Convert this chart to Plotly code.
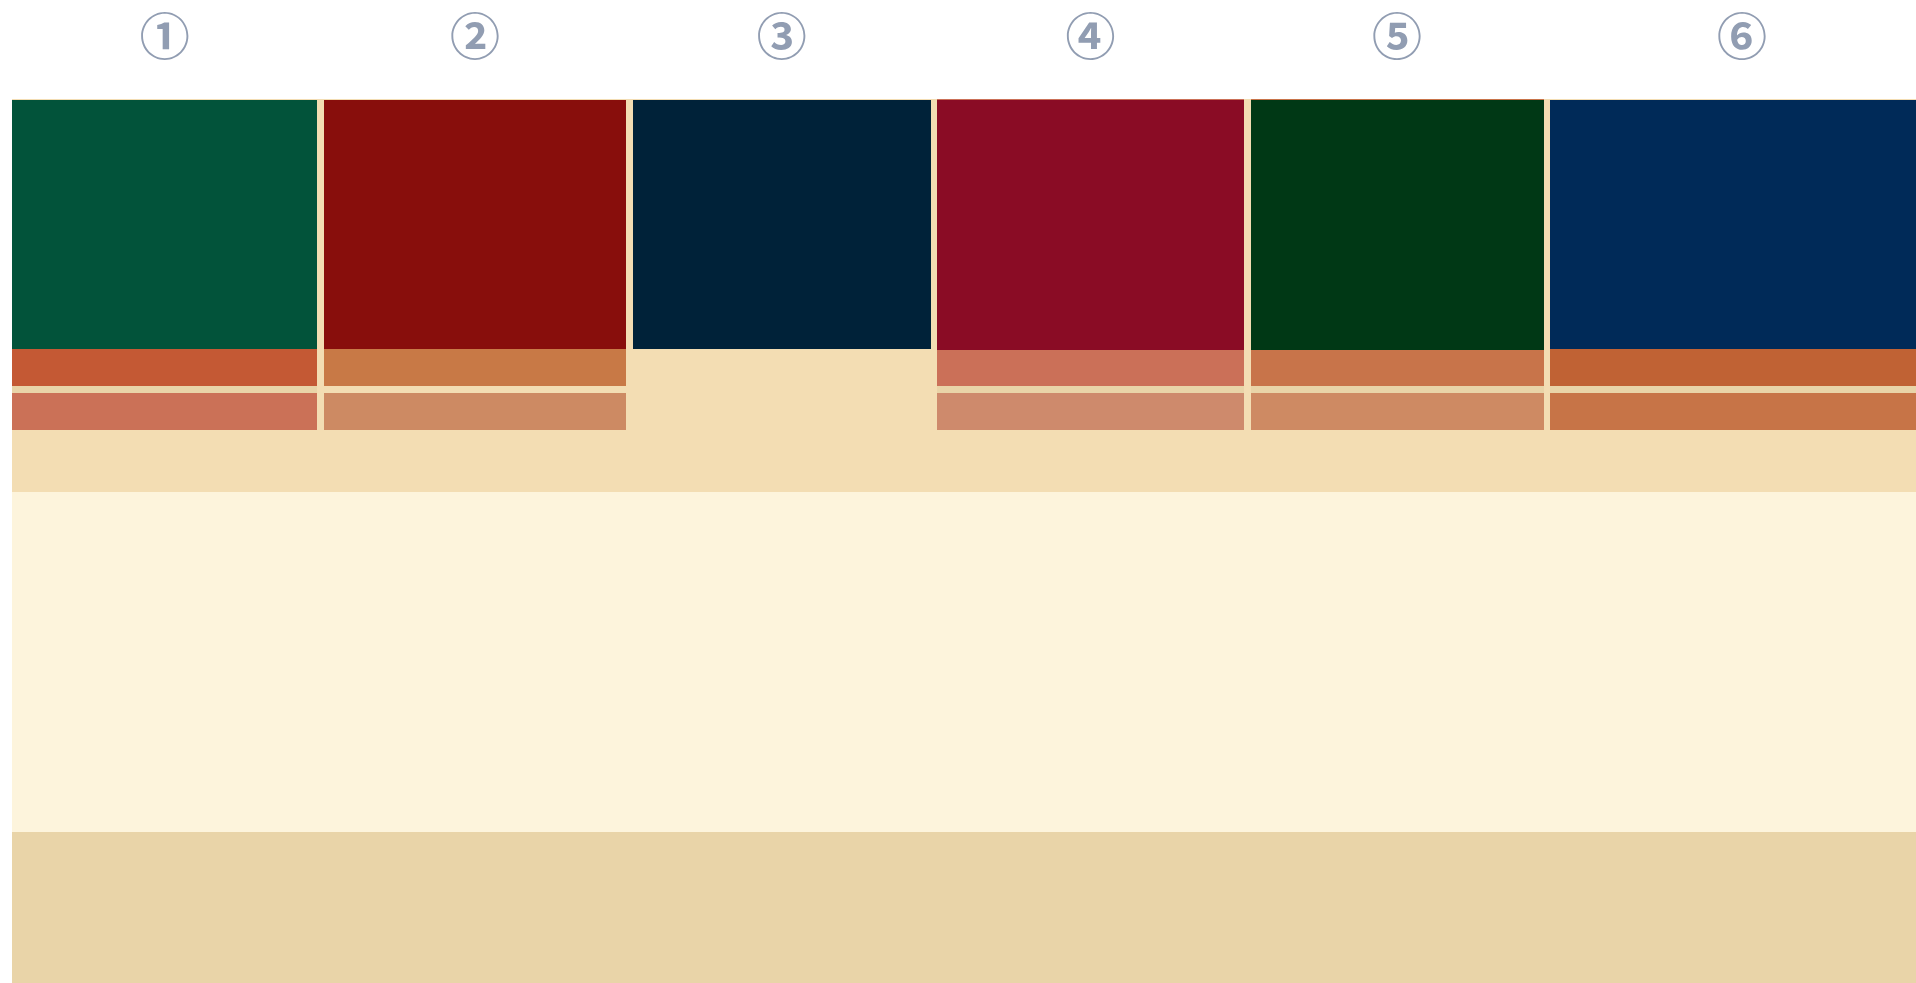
import plotly.graph_objects as go

# colonnes (largeurs, en px du tracé)
col_labels = ["①", "②", "③", "④", "⑤", "⑥"]
col_widths = [305.3, 302.3, 297.8, 306.7, 293.0, 383.6]
col_gap = 6.6

# segments empilés depuis le haut (hauteurs)
cap_h = [1, 1, 1, 1, 1, 1]
dark_h = [249, 249, 249, 250, 250, 249]
orange_h = [37, 37, 0, 36, 36, 37]
gap_h = [7, 7, 0, 7, 7, 7]
salmon_h = [37, 37, 0, 37, 37, 37]

cap_colors = ["#F3DDB3", "#F3DDB3", "#F3DDB3", "#CB7058", "#C8744A", "#F3DDB3"]
dark_colors = ["#02533A", "#880E0C", "#002239", "#8A0C25", "#003815", "#002A58"]
orange_colors = ["#C45934", "#C87946", "#F3DDB3", "#CB7058", "#C8744A", "#C06234"]
gap_colors = ["#E9D4A8", "#F3DDB3", "#F3DDB3", "#E9D4A8", "#E9D4A8", "#E9D4A8"]
salmon_colors = ["#CB7157", "#CD8A63", "#F3DDB3", "#CE8A6C", "#CE8A63", "#C77447"]

# bandes de fond (hauteurs depuis le haut)
band_heights = [393, 340, 300]
band_colors = ["#F3DDB3", "#FDF4DC", "#E9D4A8"]

W, H = 1916, 983
ML, MT = 12, 99
plot_w = W - ML
plot_h = H - MT

# positions x des colonnes
lefts = []
x = 0.0
for w in col_widths:
    lefts.append(x)
    x += w + col_gap
centers = [l + w / 2 for l, w in zip(lefts, col_widths)]

fig = go.Figure()

# --- fond : bandes horizontales ---
base = 0
bases = []
for h in band_heights:
    bases.append(base)
    base += h
fig.add_trace(
    go.Bar(
        x=[plot_w / 2] * len(band_heights),
        y=band_heights,
        base=bases,
        width=[plot_w * 1.2] * len(band_heights),
        marker=dict(color=band_colors, line=dict(width=0)),
        hoverinfo="skip",
    )
)

# --- colonnes empilées ---
stack = [0] * len(col_widths)
for heights, colors in (
    (cap_h, cap_colors),
    (dark_h, dark_colors),
    (orange_h, orange_colors),
    (gap_h, gap_colors),
    (salmon_h, salmon_colors),
):
    fig.add_trace(
        go.Bar(
            x=centers,
            y=heights,
            base=list(stack),
            width=col_widths,
            marker=dict(color=colors, line=dict(width=0)),
            hoverinfo="skip",
        )
    )
    stack = [s + h for s, h in zip(stack, heights)]

fig.update_layout(
    width=W,
    height=H,
    margin=dict(l=ML, r=0, t=MT, b=0, pad=0),
    barmode="overlay",
    bargap=0,
    showlegend=False,
    paper_bgcolor="white",
    plot_bgcolor="white",
    hovermode=False,
)
fig.update_xaxes(
    range=[0, plot_w],
    side="top",
    tickmode="array",
    tickvals=centers,
    ticktext=col_labels,
    tickfont=dict(family="Noto Sans CJK SC", size=50, color="#919DB2", weight=700),
    ticks="",
    ticklabelstandoff=33,
    automargin=False,
    showgrid=False,
    zeroline=False,
    showline=False,
)
fig.update_yaxes(
    range=[plot_h, 0],
    showticklabels=False,
    ticks="",
    showgrid=False,
    zeroline=False,
    showline=False,
)

# la figure remplit exactement la fenêtre : pas de marge de page ni de défilement
fig.write_html(
    "out.html",
    config={"displayModeBar": False},
    post_script="document.body.style.margin='0';"
    "document.documentElement.style.overflow='hidden';"
    "document.body.style.overflow='hidden';",
)
